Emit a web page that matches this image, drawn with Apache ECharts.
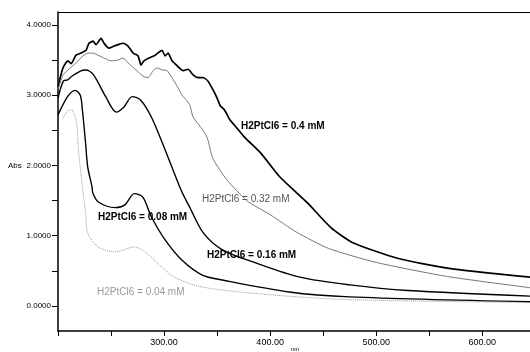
<!DOCTYPE html>
<html>
<head>
<meta charset="utf-8">
<script src="https://cdn.jsdelivr.net/npm/echarts@6/dist/echarts.min.js"></script>
<style>
  html, body { margin: 0; padding: 0; background: #fff; }
  #chart { width: 530px; height: 352px; }
</style>
</head>
<body>
<div id="chart"></div>
<script>
// wavelength (nm) / absorbance pairs
var c040 = [[200,3.12],[204.7,3.39],[209.4,3.49],[212.3,3.45],[217,3.57],[221.7,3.6],[226.4,3.64],[229.2,3.74],[233,3.77],[235.8,3.72],[240.6,3.81],[243.4,3.74],[248,3.67],[252.8,3.7],[256.6,3.72],[261.3,3.74],[266,3.7],[270.8,3.6],[275.5,3.56],[278.3,3.43],[281,3.49],[285.8,3.53],[291.5,3.57],[298,3.64],[301,3.56],[303.8,3.6],[307.5,3.49],[312.3,3.42],[318,3.35],[322.6,3.37],[327.4,3.29],[332,3.25],[336.8,3.25],[341.5,3.2],[345.3,3.1],[350,2.96],[353,2.85],[357,2.79],[362,2.65],[366,2.58],[376,2.4],[391,2.18],[409,1.84],[435,1.47],[457,1.12],[478,0.9],[520,0.68],[567,0.54],[645,0.41]];
var c032 = [[200,3.08],[204.7,3.29],[209.4,3.36],[214,3.42],[219,3.49],[223.6,3.56],[228.3,3.6],[233,3.6],[237.7,3.57],[243.4,3.53],[250,3.49],[256.6,3.5],[261.3,3.53],[266,3.46],[273.6,3.36],[280.2,3.27],[285,3.25],[289.6,3.35],[293.4,3.39],[298,3.36],[302.8,3.35],[307.5,3.25],[312.3,3.13],[317,3.0],[321.7,2.92],[324.5,2.85],[327.4,2.69],[336.8,2.5],[341,2.38],[346,2.1],[359,1.8],[378,1.5],[400,1.3],[425,1.05],[455,0.82],[500,0.62],[567,0.42],[645,0.26]];
var c016 = [[200,2.96],[205,3.2],[209,3.22],[213,3.27],[222,3.35],[226,3.36],[233,3.3],[245,2.98],[255,2.76],[262,2.83],[270,2.98],[278,2.93],[288,2.69],[300,2.26],[316,1.65],[324,1.41],[337,1.04],[355,0.8],[387,0.61],[428,0.41],[475,0.3],[530,0.22],[645,0.14]];
var c008 = [[200,2.72],[209,2.98],[216,3.07],[221,3.0],[223,2.79],[226,2.32],[228,1.98],[232,1.7],[233,1.6],[238,1.48],[254,1.4],[263,1.44],[272,1.6],[280,1.55],[288,1.27],[301,0.94],[317,0.65],[336,0.44],[355,0.37],[418,0.2],[475,0.13],[645,0.06]];
var c004 = [[204,2.66],[211,2.79],[214,2.78],[218,2.55],[219,2.26],[223,1.7],[226,1.32],[228,1.04],[238,0.84],[254,0.77],[272,0.84],[282,0.77],[294,0.61],[310,0.41],[336,0.27],[400,0.16],[475,0.09],[645,0.05]];

var yTicks = [0, 0.5, 1, 1.5, 2, 2.5, 3, 3.5, 4];
var yLabels = [0, 1, 2, 3, 4];
var curveNames = ["H2PtCl6 = 0.4 mM", "H2PtCl6 = 0.32 mM", "H2PtCl6 = 0.16 mM", "H2PtCl6 = 0.08 mM", "H2PtCl6 = 0.04 mM"];

var chart = echarts.init(document.getElementById("chart"));

var option = {
  backgroundColor: "#fff",
  animation: false,
  grid: { left: 58, top: 12, right: 0, bottom: 21 },
  xAxis: [
    {
      type: "value",
      min: 200,
      max: 645,
      interval: 50,
      axisLine: { onZero: false, lineStyle: { color: "#000", width: 1.5 } },
      axisTick: { length: 5, lineStyle: { color: "#000" } },
      splitLine: { show: false },
      axisLabel: {
        margin: 7,
        fontSize: 9,
        color: "#000",
        fontFamily: "Liberation Sans",
        showMaxLabel: false,
        formatter: function (v) {
          return (v % 100 === 0 && v > 200) ? v.toFixed(2) : "";
        }
      }
    },
    {
      type: "value",
      position: "top",
      min: 200,
      max: 645,
      axisLine: { show: true, onZero: false, lineStyle: { color: "#000", width: 1 } },
      axisTick: { show: false },
      axisLabel: { show: false },
      splitLine: { show: false }
    }
  ],
  yAxis: {
    type: "value",
    min: -0.356,
    max: 4.185,
    axisLine: { show: true, onZero: false, lineStyle: { color: "#000", width: 1.5 } },
    axisTick: { show: true, length: 6, customValues: yTicks, lineStyle: { color: "#000" } },
    splitLine: { show: false },
    axisLabel: {
      margin: 7,
      fontSize: 8,
      color: "#000",
      fontFamily: "Liberation Sans",
      customValues: yLabels,
      formatter: function (v) { return v.toFixed(4); }
    }
  },
  series: [
    { name: curveNames[0], type: "line", data: c040, showSymbol: false, smooth: 0.2,
      lineStyle: { color: "#000", width: 1.7 } },
    { name: curveNames[1], type: "line", data: c032, showSymbol: false, smooth: 0.2,
      lineStyle: { color: "#666", width: 0.9 } },
    { name: curveNames[2], type: "line", data: c016, showSymbol: false, smooth: 0.3,
      lineStyle: { color: "#000", width: 1.4 } },
    { name: curveNames[3], type: "line", data: c008, showSymbol: false, smooth: 0.3,
      lineStyle: { color: "#000", width: 1.4 } },
    { name: curveNames[4], type: "line", data: c004, showSymbol: false, smooth: 0.3,
      lineStyle: { color: "#999", width: 1, type: "dotted" } }
  ],
  graphic: [
    { type: "text", left: 241, top: 121, style: { text: curveNames[0], fill: "#000", font: "bold 10px 'Liberation Sans'" } },
    { type: "text", left: 202, top: 194, style: { text: curveNames[1], fill: "#555", font: "10px 'Liberation Sans'" } },
    { type: "text", left: 207, top: 250, style: { text: curveNames[2], fill: "#000", font: "bold 10px 'Liberation Sans'" } },
    { type: "text", left: 98, top: 212, style: { text: curveNames[3], fill: "#000", font: "bold 10px 'Liberation Sans'" } },
    { type: "text", left: 97, top: 287, style: { text: curveNames[4], fill: "#999", font: "10px 'Liberation Sans'" } },
    { type: "text", left: 8, top: 162, style: { text: "Abs", fill: "#000", font: "8px 'Liberation Sans'" } },
    { type: "text", left: 291, top: 346, style: { text: "nm", fill: "#000", font: "6px 'Liberation Sans'" } }
  ]
};

chart.setOption(option);
</script>
</body>
</html>
